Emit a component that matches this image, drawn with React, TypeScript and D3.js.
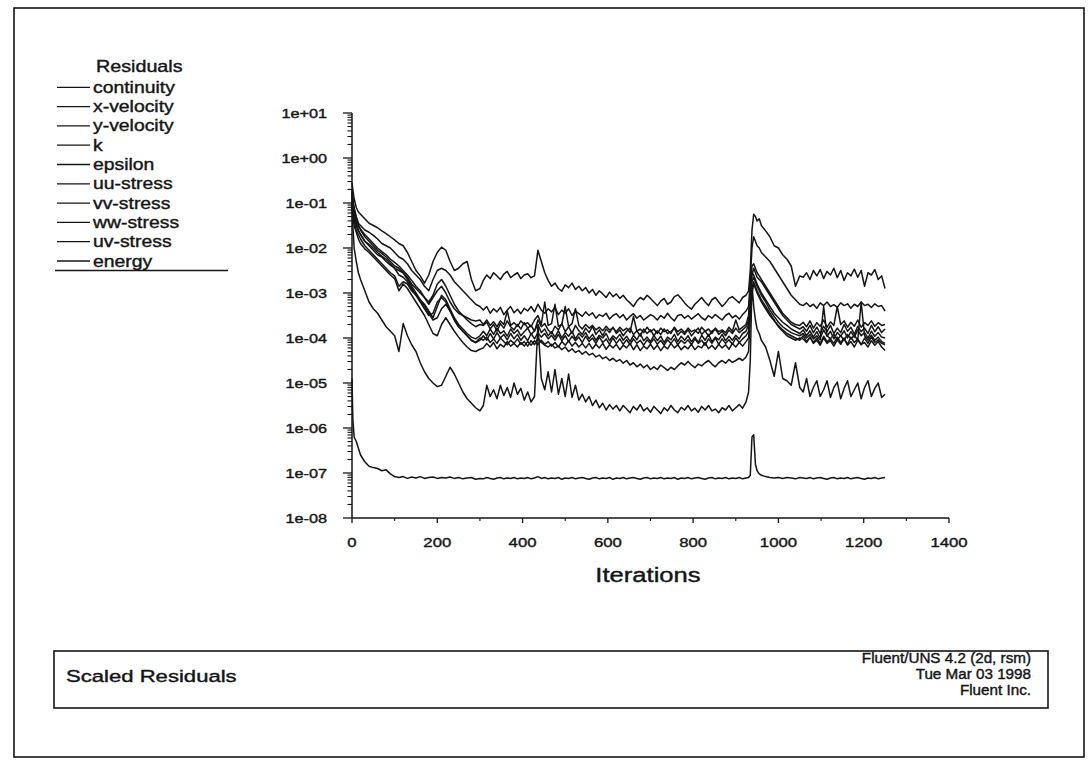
import React from "react";
import * as d3 from "d3";

// Iteration numbers at which the residuals were sampled
const iterations = [
  0, 2, 5, 10, 15, 20, 30, 40, 50, 60, 70, 80, 90, 100, 110, 120, 130, 140, 150, 160, 170, 180, 190, 200, 210, 220, 230, 240, 250, 260, 270, 280, 290, 300,
  308, 316, 324, 332, 340, 348, 356, 364, 372, 380,
  388, 396, 404, 412, 420, 428, 436, 444, 452, 460,
  468, 476, 484, 492, 500, 508, 516, 524, 532, 540,
  548, 556, 564, 572, 580, 588, 596, 604, 612, 620,
  628, 636, 644, 652, 660, 668, 676, 684, 692, 700,
  708, 716, 724, 732, 740, 748, 756, 764, 772, 780,
  788, 796, 804, 812, 820, 828, 836, 844, 852, 860,
  868, 876, 884, 892, 900, 908, 916, 924, 930,
  934, 938, 942, 946, 950, 955, 960,
  970, 980, 990, 1000, 1010, 1020, 1030, 1040, 1050,
  1058, 1066, 1074, 1082, 1090, 1098, 1106, 1114, 1122, 1130,
  1138, 1146, 1154, 1162, 1170, 1178, 1186, 1194, 1202, 1210,
  1218, 1226, 1234, 1242, 1250,
];

// log10 of the scaled residual for each equation, one entry per iteration above
const continuity = [
  -0.55, -0.7, -0.9, -1.1, -1.2, -1.25, -1.35, -1.45, -1.5, -1.55, -1.62, -1.68, -1.75, -1.82, -1.9, -1.95, -2.1, -2.3, -2.5, -2.62, -2.78, -2.6, -2.3, -2.1, -1.98, -2.05, -2.3, -2.5, -2.45, -2.35, -2.3, -2.7, -2.95, -2.9,
  -2.72, -2.6, -2.68, -2.55, -2.62, -2.7, -2.58, -2.52, -2.66, -2.6,
  -2.55, -2.68, -2.6, -2.57, -2.66, -2.62, -2.05, -2.3, -2.55, -2.72,
  -2.85, -2.78, -2.9, -2.96, -2.82, -2.88, -2.78, -2.92, -2.85, -2.95,
  -2.88, -3.0, -2.92, -3.05, -2.95, -3.02, -3.1, -2.98, -3.08, -3.02,
  -3.12, -3.05, -3.15, -3.22, -3.3, -3.18, -3.1, -3.15, -3.05, -3.12,
  -3.2, -3.28, -3.18, -3.12, -3.25, -3.2, -3.08, -3.04, -3.12, -3.22,
  -3.3, -3.36, -3.25, -3.18, -3.1, -3.2, -3.28, -3.15, -3.1, -3.2,
  -3.3, -3.22, -3.12, -3.08, -3.15, -3.22, -3.1, -3.05, -2.95,
  -2.5, -1.6, -1.25, -1.3, -1.4, -1.35, -1.5,
  -1.62, -1.75, -1.95, -2.0, -2.15, -2.25, -2.4, -2.85, -2.62,
  -2.65, -2.55, -2.7, -2.5, -2.62, -2.48, -2.68, -2.52, -2.6, -2.45,
  -2.66, -2.5, -2.72, -2.55, -2.62, -2.47, -2.65, -2.5, -2.85, -2.55,
  -2.6, -2.48, -2.7, -2.62, -2.9,
];
const xVelocity = [
  -0.75, -0.9, -1.1, -1.3, -1.45, -1.5, -1.6, -1.65, -1.72, -1.8, -1.9, -1.95, -2.0, -2.1, -2.2, -2.25, -2.35, -2.5, -2.6, -2.7, -2.85, -2.95, -2.7, -2.5, -2.45, -2.5, -2.6, -2.75, -2.85, -2.95, -3.05, -3.15, -3.25, -3.3,
  -3.38, -3.3, -3.45, -3.35, -3.42, -3.32, -3.48, -3.38, -3.3, -3.44,
  -3.36, -3.46, -3.34, -3.4, -3.3, -3.42, -3.25, -3.38, -3.45, -3.35,
  -3.42, -3.32, -3.48, -3.38, -3.45, -3.35, -3.5, -3.4, -3.46, -3.52,
  -3.42, -3.5, -3.44, -3.56, -3.48, -3.52, -3.45, -3.58, -3.5, -3.46,
  -3.55, -3.48, -3.6, -3.52, -3.46, -3.56, -3.5, -3.6, -3.54, -3.48,
  -3.52, -3.6, -3.5, -3.56, -3.45, -3.55, -3.62, -3.5, -3.48, -3.56,
  -3.5, -3.58, -3.52, -3.46, -3.55, -3.6, -3.5, -3.56, -3.48, -3.54,
  -3.6, -3.5, -3.45, -3.55, -3.5, -3.58, -3.48, -3.4, -3.3,
  -2.7, -2.0, -1.75, -1.85, -1.95, -2.0, -2.1,
  -2.2, -2.3, -2.45, -2.6, -2.75, -2.9, -3.05, -3.15, -3.25,
  -3.28, -3.22, -3.3, -3.25, -3.34, -3.22, -3.28, -3.2, -3.3, -3.26,
  -3.32, -3.22, -3.28, -3.24, -3.34, -3.25, -3.3, -3.2, -3.28, -3.25,
  -3.32, -3.24, -3.3, -3.28, -3.4,
];
const yVelocity = [
  -0.9, -1.1, -1.3, -1.45, -1.6, -1.7, -1.85, -1.95, -2.05, -2.15, -2.2, -2.3, -2.38, -2.45, -2.5, -2.55, -2.65, -2.8, -2.9, -3.0, -3.1, -3.25, -3.1, -2.95, -2.85, -3.0, -3.2, -3.35, -3.45, -3.5, -3.6, -3.68, -3.75, -3.7,
  -3.72, -3.65, -3.8, -3.7, -3.85, -3.68, -3.78, -3.62, -3.75, -3.82,
  -3.7, -3.8, -3.66, -3.78, -3.72, -3.85, -3.6, -3.75, -3.68, -3.82,
  -3.9, -3.74, -3.82, -3.68, -3.86, -3.75, -3.9, -3.72, -3.84, -3.92,
  -3.78, -3.88, -3.74, -3.92, -3.82, -3.95, -3.8, -3.88, -3.76, -3.9,
  -3.82, -3.95, -3.85, -3.78, -3.92, -3.84, -3.96, -3.8, -3.9, -3.82,
  -3.95, -3.84, -3.92, -3.8, -3.9, -3.86, -3.78, -3.94, -3.85, -3.92,
  -3.82, -3.95, -3.86, -3.78, -3.92, -3.84, -3.96, -3.85, -3.8, -3.92,
  -3.85, -3.95, -3.82, -3.9, -3.78, -3.88, -3.82, -3.75, -3.62,
  -3.2, -2.6, -2.45, -2.55, -2.65, -2.7, -2.75,
  -2.9, -3.05, -3.2, -3.35, -3.5, -3.6, -3.7, -3.75, -3.8,
  -3.75, -3.85, -3.72, -3.88, -3.76, -3.9, -3.74, -3.86, -3.72, -3.9,
  -3.78, -3.88, -3.7, -3.85, -3.76, -3.92, -3.74, -3.86, -3.78, -3.9,
  -3.72, -3.86, -3.75, -3.88, -3.8,
];
const kResidual = [
  -1.0, -1.2, -1.4, -1.6, -1.7, -1.8, -1.95, -2.05, -2.15, -2.25, -2.35, -2.45, -2.55, -2.62, -2.85, -2.75, -2.8, -2.95, -3.05, -3.15, -3.3, -3.45, -3.6, -3.55, -3.35, -3.25, -3.4, -3.6, -3.75, -3.85, -3.95, -4.05, -4.1, -4.0,
  -4.05, -3.98, -4.1, -4.02, -4.12, -4.0, -4.08, -4.15, -4.05, -4.12,
  -4.02, -4.14, -4.08, -4.18, -4.06, -4.15, -4.0, -4.1, -4.16, -4.2,
  -4.14, -4.22, -4.18, -4.26, -4.2, -4.3, -4.24, -4.32, -4.28, -4.36,
  -4.3, -4.38, -4.34, -4.42, -4.38, -4.46, -4.42, -4.5, -4.45, -4.52,
  -4.48, -4.56, -4.5, -4.6, -4.55, -4.64, -4.58, -4.66, -4.6, -4.7,
  -4.64, -4.7, -4.6, -4.66, -4.72, -4.65, -4.7, -4.62, -4.55, -4.6,
  -4.52, -4.6, -4.66, -4.58, -4.62, -4.55, -4.5, -4.58, -4.64, -4.55,
  -4.5, -4.56, -4.48, -4.54, -4.5, -4.45, -4.5, -4.42, -4.3,
  -3.5, -2.9, -2.75, -2.85, -2.95, -3.05, -3.15,
  -3.3, -3.45, -3.6, -3.75, -3.85, -3.95, -4.0, -4.05, -4.0,
  -4.02, -4.1, -3.98, -4.12, -4.05, -4.16, -4.0, -4.12, -4.06, -4.18,
  -4.04, -4.14, -4.02, -4.16, -4.08, -4.2, -4.05, -4.14, -4.1, -4.2,
  -4.06, -4.16, -4.08, -4.2, -4.28,
];
const epsilon = [
  -1.0, -1.5, -2.0, -2.3, -2.55, -2.7, -2.95, -3.2, -3.35, -3.45, -3.6, -3.75, -3.85, -3.95, -4.3, -3.68, -3.95, -4.15, -4.3, -4.55, -4.75, -4.9, -5.0, -5.08, -5.05, -4.85, -4.65, -4.8, -5.0, -5.2, -5.35, -5.45, -5.55, -5.62,
  -5.5, -5.05, -5.3, -5.15, -5.35, -5.05, -5.28, -5.1, -5.32, -5.0,
  -5.25, -5.12, -5.38, -5.2, -5.42, -5.3, -3.7, -4.9, -5.15, -4.75,
  -5.2, -4.7, -5.25, -4.9, -5.3, -4.8, -5.32, -5.05, -5.38, -5.25,
  -5.42, -5.3, -5.5, -5.38, -5.55, -5.45, -5.6, -5.48, -5.58, -5.5,
  -5.62, -5.5, -5.58, -5.66, -5.52, -5.6, -5.48, -5.62, -5.55, -5.65,
  -5.52, -5.6, -5.68, -5.55, -5.62, -5.5, -5.6, -5.66, -5.54, -5.6,
  -5.5, -5.62, -5.56, -5.65, -5.52, -5.6, -5.5, -5.62, -5.58, -5.66,
  -5.55, -5.6, -5.5, -5.62, -5.55, -5.48, -5.56, -5.42, -5.2,
  -4.5, -2.8, -3.3, -3.6, -3.8, -3.9, -4.05,
  -4.2, -4.5, -4.85, -4.3, -4.9, -4.95, -5.05, -4.55, -5.1,
  -5.2, -4.9, -5.3, -5.1, -4.95, -5.3, -5.15, -4.95, -5.32, -5.1,
  -4.98, -5.35, -5.12, -4.95, -5.3, -5.15, -5.0, -5.35, -5.1, -4.95,
  -5.3, -5.12, -5.0, -5.32, -5.25,
];
const uuStress = [
  -0.8, -1.0, -1.2, -1.4, -1.5, -1.6, -1.75, -1.85, -1.95, -2.05, -2.12, -2.2, -2.3, -2.4, -2.45, -2.55, -2.7, -2.85, -3.0, -3.15, -3.25, -3.4, -3.55, -3.3, -3.05, -3.15, -3.35, -3.55, -3.7, -3.8, -3.9, -3.98, -4.02, -3.95,
  -3.85, -3.95, -3.8, -3.92, -3.78, -3.9, -3.84, -3.96, -3.8, -3.9,
  -3.82, -3.95, -3.86, -3.78, -3.92, -3.84, -3.7, -3.88, -3.8, -3.95,
  -3.86, -3.98, -3.84, -4.0, -3.88, -3.96, -3.85, -4.02, -3.9, -3.98,
  -3.88, -4.02, -3.92, -4.05, -3.94, -4.0, -3.9, -4.06, -3.95, -4.02,
  -3.92, -4.05, -3.96, -4.08, -3.94, -4.04, -3.9, -4.06, -3.98, -4.08,
  -3.94, -4.06, -3.96, -4.1, -3.98, -4.04, -3.92, -4.08, -3.96, -4.05,
  -3.95, -4.08, -3.98, -4.1, -3.94, -4.05, -3.92, -4.08, -3.98, -4.04,
  -3.92, -4.06, -3.96, -4.05, -3.94, -4.02, -3.9, -3.85, -3.7,
  -3.0, -2.55, -2.6, -2.7, -2.8, -2.9, -3.0,
  -3.15, -3.3, -3.45, -3.55, -3.65, -3.72, -3.8, -3.85, -3.9,
  -3.82, -3.95, -3.84, -3.98, -3.86, -4.0, -3.82, -3.96, -3.85, -4.02,
  -3.88, -3.96, -3.84, -4.0, -3.86, -3.98, -3.82, -3.95, -3.88, -4.0,
  -3.85, -3.96, -3.88, -3.98, -4.0,
];
const vvStress = [
  -0.7, -0.95, -1.15, -1.35, -1.5, -1.58, -1.7, -1.8, -1.9, -2.0, -2.08, -2.15, -2.25, -2.32, -2.4, -2.5, -2.6, -2.72, -2.85, -2.95, -3.1, -3.2, -3.05, -2.8, -2.7, -2.85, -3.05, -3.25, -3.4, -3.5, -3.55, -3.6, -3.62, -3.6,
  -3.7, -3.6, -3.72, -3.64, -3.75, -3.62, -3.7, -3.4, -3.72, -3.66,
  -3.74, -3.62, -3.7, -3.66, -3.75, -3.6, -3.5, -3.7, -3.2, -3.72,
  -3.68, -3.25, -3.74, -3.7, -3.3, -3.75, -3.68, -3.35, -3.72, -3.8,
  -3.7, -3.78, -3.72, -3.82, -3.76, -3.84, -3.74, -3.82, -3.78, -3.86,
  -3.76, -3.84, -3.78, -3.88, -3.52, -3.85, -3.8, -3.88, -3.76, -3.86,
  -3.8, -3.9, -3.78, -3.86, -3.82, -3.9, -3.76, -3.86, -3.8, -3.88,
  -3.78, -3.86, -3.82, -3.9, -3.76, -3.85, -3.8, -3.9, -3.78, -3.86,
  -3.82, -3.88, -3.76, -3.85, -3.6, -3.82, -3.76, -3.7, -3.5,
  -2.9, -2.4, -2.35, -2.45, -2.55, -2.62, -2.7,
  -2.85, -3.0, -3.15, -3.3, -3.45, -3.55, -3.65, -3.7, -3.72,
  -3.65, -3.75, -3.62, -3.78, -3.66, -3.74, -3.6, -3.76, -3.64, -3.72,
  -3.3, -3.7, -3.62, -3.76, -3.65, -3.74, -3.6, -3.76, -3.66, -3.72,
  -3.62, -3.74, -3.66, -3.72, -3.7,
];
const wwStress = [
  -1.1, -1.3, -1.5, -1.65, -1.8, -1.9, -2.02, -2.1, -2.2, -2.3, -2.4, -2.5, -2.6, -2.68, -2.95, -2.8, -2.9, -3.05, -3.2, -3.35, -3.5, -3.7, -3.9, -3.95, -3.7, -3.55, -3.7, -3.85, -3.98, -4.1, -4.2, -4.28, -4.3, -4.25,
  -4.22, -4.12, -4.2, -4.1, -4.24, -4.14, -4.2, -4.08, -4.18, -4.12,
  -4.2, -4.1, -4.18, -4.08, -4.16, -4.06, -4.15, -4.05, -4.14, -4.08,
  -4.18, -4.1, -4.2, -4.08, -4.16, -4.06, -4.18, -4.1, -4.2, -4.12,
  -4.22, -4.12, -4.24, -4.14, -4.22, -4.12, -4.25, -4.15, -4.22, -4.14,
  -4.26, -4.16, -4.22, -4.12, -4.26, -4.15, -4.28, -4.18, -4.24, -4.14,
  -4.25, -4.16, -4.28, -4.18, -4.24, -4.12, -4.22, -4.15, -4.26, -4.18,
  -4.24, -4.14, -4.26, -4.18, -4.22, -4.1, -4.24, -4.16, -4.25, -4.14,
  -4.22, -4.15, -4.25, -4.12, -4.2, -4.1, -4.18, -4.08, -4.0,
  -3.4, -3.0, -2.8, -2.9, -3.0, -3.1, -3.2,
  -3.35, -3.5, -3.62, -3.72, -3.82, -3.9, -3.95, -4.0, -4.05,
  -3.95, -4.08, -3.98, -4.1, -4.0, -4.12, -3.96, -4.08, -4.02, -4.12,
  -3.98, -4.1, -4.0, -4.14, -3.98, -4.1, -4.02, -4.15, -4.0, -4.12,
  -3.98, -4.1, -4.04, -4.12, -4.15,
];
const uvStress = [
  -0.85, -1.05, -1.25, -1.5, -1.62, -1.7, -1.85, -1.92, -2.0, -2.1, -2.18, -2.25, -2.35, -2.45, -2.6, -2.65, -2.75, -2.9, -3.05, -3.2, -3.35, -3.5, -3.45, -3.2, -3.1, -3.2, -3.4, -3.6, -3.75, -3.85, -3.95, -4.05, -4.1, -4.05,
  -3.95, -4.05, -3.9, -4.02, -3.88, -4.0, -3.92, -4.04, -3.9, -4.02,
  -3.92, -4.05, -3.95, -4.06, -3.9, -4.02, -3.88, -3.98, -3.9, -4.02,
  -3.94, -4.05, -3.92, -4.06, -3.95, -4.08, -3.96, -4.06, -3.98, -4.1,
  -3.96, -4.08, -4.0, -4.12, -3.98, -4.1, -4.02, -4.14, -4.0, -4.12,
  -4.02, -4.14, -4.04, -4.15, -4.02, -4.12, -4.05, -4.16, -4.04, -4.12,
  -4.02, -4.14, -4.05, -4.16, -4.04, -4.12, -4.02, -4.15, -4.05, -4.12,
  -4.04, -4.15, -4.02, -4.12, -4.05, -4.16, -4.02, -4.12, -4.0, -4.14,
  -4.02, -4.12, -4.04, -4.14, -4.0, -4.1, -4.02, -3.95, -3.85,
  -3.3, -2.75, -2.65, -2.75, -2.85, -2.95, -3.05,
  -3.2, -3.38, -3.52, -3.65, -3.75, -3.82, -3.88, -3.92, -3.95,
  -3.9, -4.0, -3.92, -4.02, -3.95, -4.04, -3.3, -3.95, -4.02, -3.92,
  -4.04, -3.95, -4.05, -3.92, -4.02, -3.94, -4.05, -3.2, -3.95, -4.05,
  -3.94, -4.05, -3.98, -4.08, -4.12,
];
const energy = [
  -4.9, -5.8, -6.2, -6.3, -6.45, -6.6, -6.75, -6.85, -6.88, -6.9, -6.95, -6.93, -7.02, -7.08, -7.1, -7.08, -7.12, -7.09, -7.11, -7.08, -7.12, -7.1, -7.09, -7.12, -7.1, -7.11, -7.09, -7.12, -7.1, -7.13, -7.11, -7.1, -7.14, -7.12,
  -7.13, -7.1, -7.12, -7.14, -7.11, -7.1, -7.13, -7.11, -7.12, -7.1,
  -7.13, -7.11, -7.12, -7.1, -7.13, -7.11, -7.08, -7.12, -7.1, -7.13,
  -7.11, -7.12, -7.1, -7.14, -7.11, -7.12, -7.1, -7.13, -7.11, -7.1,
  -7.12, -7.14, -7.11, -7.1, -7.13, -7.11, -7.12, -7.1, -7.14, -7.11,
  -7.12, -7.1, -7.13, -7.11, -7.1, -7.12, -7.14, -7.11, -7.1, -7.13,
  -7.11, -7.12, -7.1, -7.13, -7.11, -7.12, -7.1, -7.14, -7.11, -7.12,
  -7.1, -7.13, -7.11, -7.1, -7.12, -7.14, -7.11, -7.1, -7.13, -7.11,
  -7.12, -7.1, -7.13, -7.11, -7.12, -7.1, -7.13, -7.11, -7.1,
  -7.05, -6.2, -6.15, -6.8, -6.95, -7.02, -7.05,
  -7.08, -7.1, -7.11, -7.1, -7.12, -7.1, -7.11, -7.13, -7.1,
  -7.11, -7.12, -7.1, -7.13, -7.11, -7.1, -7.12, -7.14, -7.11, -7.1,
  -7.13, -7.11, -7.12, -7.1, -7.13, -7.11, -7.1, -7.12, -7.14, -7.11,
  -7.12, -7.1, -7.13, -7.11, -7.1,
];

const seriesNames = ["continuity", "x-velocity", "y-velocity", "k", "epsilon", "uu-stress", "vv-stress", "ww-stress", "uv-stress", "energy"];
const seriesLog10 = [continuity, xVelocity, yVelocity, kResidual, epsilon, uuStress, vvStress, wwStress, uvStress, energy];

const xTickValues = [0, 200, 400, 600, 800, 1000, 1200, 1400];
const xTickLabels = ["0", "200", "400", "600", "800", "1000", "1200", "1400"];
const yTickValues = [1e1, 1e0, 1e-1, 1e-2, 1e-3, 1e-4, 1e-5, 1e-6, 1e-7, 1e-8];
const yTickLabels = ["1e+01", "1e+00", "1e-01", "1e-02", "1e-03", "1e-04", "1e-05", "1e-06", "1e-07", "1e-08"];

const footerLeft = "Scaled Residuals";
const footerRight = ["Fluent/UNS 4.2 (2d, rsm)", "Tue Mar 03 1998", "Fluent Inc."];

const FONT = "'Liberation Sans', Arial, Helvetica, sans-serif";
const INK = "#151515";

type TProps = { x: number; y: number; size: number; sx?: number; anchor?: "start" | "middle" | "end"; children: React.ReactNode };
// Text drawn with a slightly widened face, as on the printed plot
function T({ x, y, size, sx = 1.2, anchor = "start", children }: TProps) {
  return (
    <text
      transform={`translate(${x},${y}) scale(${sx},1)`}
      fontFamily={FONT}
      fontSize={size}
      textAnchor={anchor}
      fill={INK}
      stroke={INK}
      strokeWidth={0.4}
    >
      {children}
    </text>
  );
}

export default function App() {
  const W = 1088;
  const H = 762;
  const x = d3.scaleLinear().domain([0, 1400]).range([352, 949]);
  const y = d3.scaleLog().domain([1e-8, 1e1]).range([518, 113]);

  const line = d3
    .line<[number, number]>()
    .defined((d) => Number.isFinite(d[1]))
    .x((d) => x(d[0]))
    .y((d) => y(Math.pow(10, d[1])));

  const minorY: number[] = [];
  for (let e = -8; e < 1; e++) {
    for (let m = 2; m <= 9; m++) minorY.push(m * Math.pow(10, e));
  }
  const minorX = d3.range(100, 1400, 200);

  const legendX0 = 57;
  const legendX1 = 90;
  const rowY = (i: number) => 87.3 + i * 19.3;

  return (
    <svg width={W} height={H} style={{ position: "absolute", left: 0, top: 0, display: "block", background: "#fff" }}>
      <rect x={0} y={0} width={W} height={H} fill="#fff" />
      {/* outer frame */}
      <rect x={14} y={8} width={1070} height={749} fill="none" stroke={INK} strokeWidth={1.6} />

      {/* legend */}
      <T x={96} y={72} size={17} sx={1.16}>Residuals</T>
      {seriesNames.map((name, i) => (
        <g key={name}>
          <line x1={legendX0} x2={legendX1} y1={rowY(i)} y2={rowY(i)} stroke={INK} strokeWidth={1.3} />
          <T x={93} y={rowY(i) + 5.5} size={17} sx={1.14}>{name}</T>
        </g>
      ))}
      <line x1={55} x2={228} y1={270.5} y2={270.5} stroke={INK} strokeWidth={1.4} />

      {/* y axis */}
      <line x1={352} x2={352} y1={y(1e1)} y2={y(1e-8)} stroke={INK} strokeWidth={1.5} />
      {minorY.map((v) => (
        <line key={`my${v}`} x1={347.5} x2={352} y1={y(v)} y2={y(v)} stroke={INK} strokeWidth={1.1} />
      ))}
      {yTickValues.map((v, i) => (
        <g key={`y${i}`}>
          <line x1={343} x2={352} y1={y(v)} y2={y(v)} stroke={INK} strokeWidth={1.3} />
          <T x={327} y={y(v) + 4.5} size={13} sx={1.25} anchor="end">{yTickLabels[i]}</T>
        </g>
      ))}

      {/* x axis */}
      <line x1={x(0)} x2={x(1400)} y1={518} y2={518} stroke={INK} strokeWidth={1.5} />
      {minorX.map((v) => (
        <line key={`mx${v}`} x1={x(v)} x2={x(v)} y1={518} y2={521} stroke={INK} strokeWidth={1.1} />
      ))}
      {xTickValues.map((v, i) => (
        <g key={`x${i}`}>
          <line x1={x(v)} x2={x(v)} y1={518} y2={523} stroke={INK} strokeWidth={1.3} />
          <T x={x(v)} y={547} size={13.5} sx={1.24} anchor="middle">{xTickLabels[i]}</T>
        </g>
      ))}
      <T x={648} y={582} size={21} sx={1.22} anchor="middle">Iterations</T>

      {/* residual histories */}
      {seriesLog10.map((vals, i) => (
        <path
          key={seriesNames[i]}
          d={line(iterations.map((it, j) => [it, vals[j]] as [number, number])) || ""}
          fill="none"
          stroke={INK}
          strokeWidth={1.5}
          strokeLinejoin="round"
        />
      ))}

      {/* footer box */}
      <rect x={54} y={651} width={994} height={57} fill="none" stroke={INK} strokeWidth={1.6} />
      <T x={66} y={682} size={17} sx={1.3}>{footerLeft}</T>
      {footerRight.map((s, i) => (
        <T key={s} x={1031} y={663 + i * 16} size={14.5} sx={1.05} anchor="end">{s}</T>
      ))}
    </svg>
  );
}
